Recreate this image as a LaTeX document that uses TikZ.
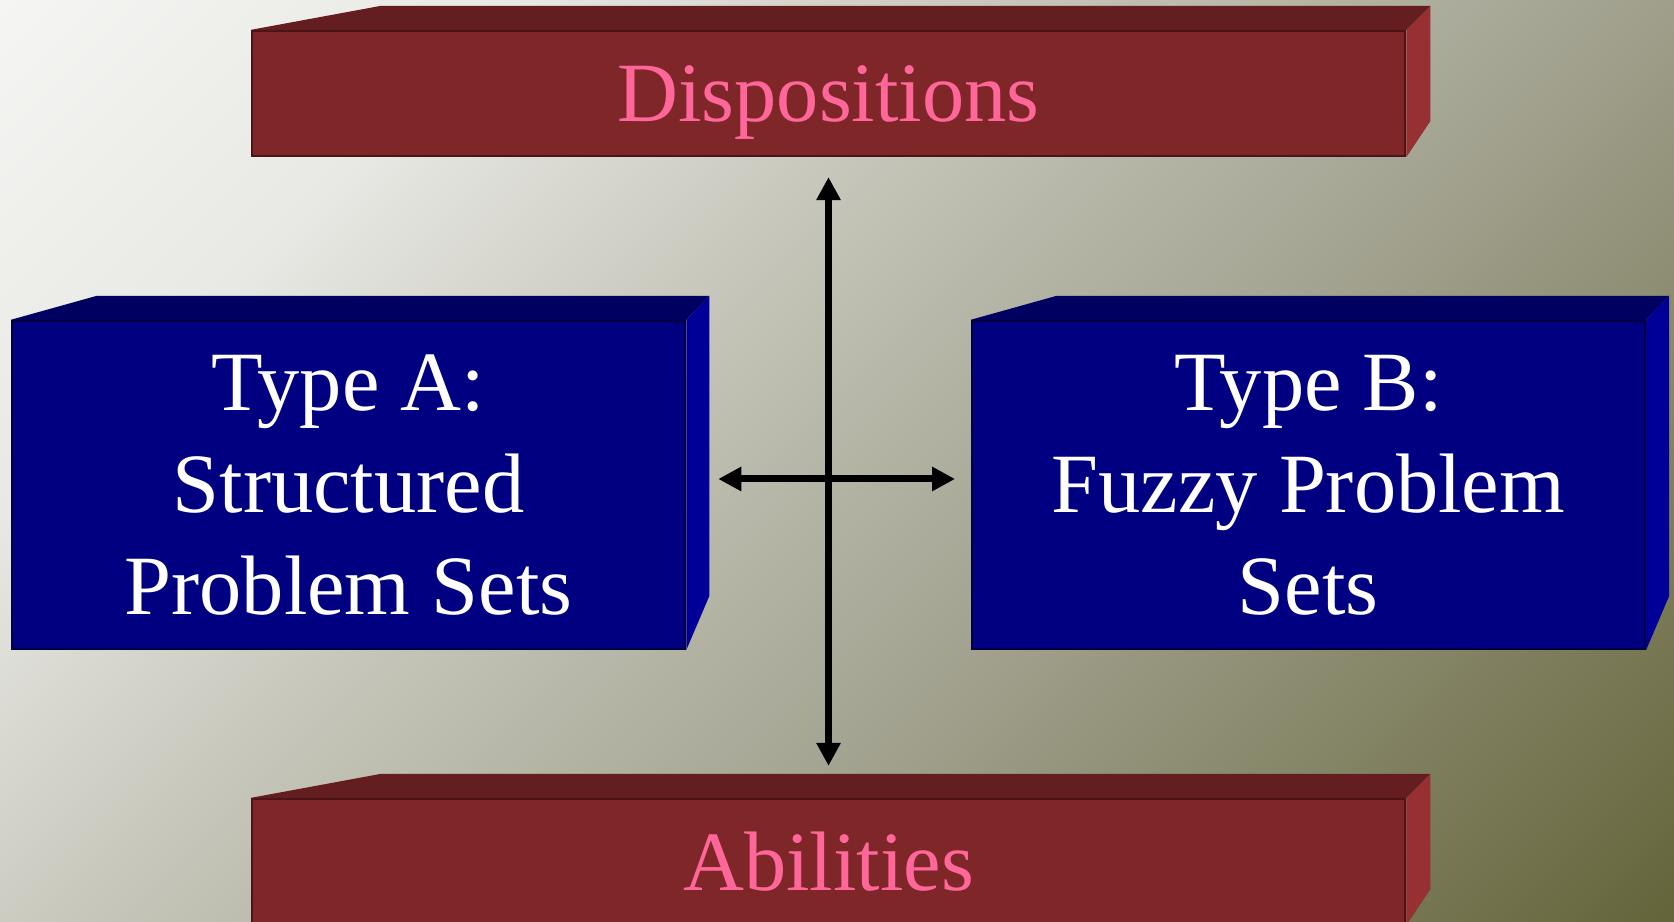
\documentclass[tikz,border=0pt]{standalone}
\usepackage{fontspec}
\setmainfont{Liberation Serif}
\usepackage{xcolor}
\usepackage{tikz}
\usetikzlibrary{arrows.meta, calc}

\definecolor{bgtl}{RGB}{245,245,243}
\definecolor{bgtwo}{RGB}{232,232,228}
\definecolor{bgthree}{RGB}{196,196,184}
\definecolor{bgfour}{RGB}{166,166,149}
\definecolor{bgbr}{RGB}{100,100,58}
\definecolor{slabred}{RGB}{127,38,40}
\definecolor{slabredtop}{RGB}{100,30,32}
\definecolor{slabredside}{RGB}{150,48,50}
\definecolor{slabredline}{RGB}{75,20,22}
\definecolor{slabpink}{RGB}{255,102,153}
\definecolor{slabblue}{RGB}{0,0,128}
\definecolor{slabbluetop}{RGB}{0,0,96}
\definecolor{slabblueside}{RGB}{0,0,153}
\definecolor{slabblueline}{RGB}{0,0,64}

\pgfdeclarehorizontalshading{bgdiag}{100bp}{color(0bp)=(bgtl); color(25bp)=(bgtl);
  color(35bp)=(bgtwo); color(45bp)=(bgthree); color(55bp)=(bgfour);
  color(75bp)=(bgbr); color(100bp)=(bgbr)}

\tikzset{
  slab/.style     = {rectangle, inner sep=0pt, align=center, line width=0.6pt,
                     font=\fontsize{24}{29}\selectfont},
  redslab/.style  = {slab, fill=slabred, draw=slabredline, text=slabpink,
                     text depth=0pt, minimum width=11.53cm, minimum height=1.25cm},
  blueslab/.style = {slab, fill=slabblue, draw=slabblueline, text=white,
                     minimum width=6.73cm, minimum height=3.28cm},
  arr/.style      = {{Triangle[length=0.23cm, width=0.23cm]}-{Triangle[length=0.23cm, width=0.23cm]},
                     line width=0.07cm},
}

\begin{document}
\begin{tikzpicture}[x=0.01cm, y=0.01cm]
  \useasboundingbox (0,0) rectangle (1674,922);
  % diagonal background, top left to bottom right
  \begin{scope}[transform canvas={shift={(0,922)}, rotate=-45}]
    \shade[shading=bgdiag] (0,-652) rectangle (1835.6,1184);
  \end{scope}

  % front faces
  \node[redslab]  (disp)  at (828.5,828.5) {Dispositions};
  \node[redslab]  (abil)  at (828.5,60.5)  {Abilities};
  \node[blueslab] (typeA) at (348.5,437)   {Type A:\\Structured\\Problem Sets};
  \node[blueslab] (typeB) at (1308.3,437)  {Type B:\\Fuzzy Problem\\Sets};

  % top and side faces
  \foreach \n in {disp, abil} {
    \fill[slabredtop] (\n.north west) -- ++(130,24)
      -- ([shift={(24,24)}]\n.north east) -- (\n.north east) -- cycle;
    \fill[slabredside] (\n.north east) -- ([shift={(24,24)}]\n.north east)
      -- ([shift={(24,36)}]\n.south east) -- (\n.south east) -- cycle;
  }
  \foreach \n in {typeA, typeB} {
    \fill[slabbluetop] (\n.north west) -- ++(86,24)
      -- ([shift={(23,24)}]\n.north east) -- (\n.north east) -- cycle;
    \fill[slabblueside] (\n.north east) -- ([shift={(23,24)}]\n.north east)
      -- ([shift={(23,54)}]\n.south east) -- (\n.south east) -- cycle;
  }

  % arrows
  \draw[arr, shorten <=0.2cm, shorten >=0.32cm] (disp.south) -- (abil.north);
  \draw[arr, shorten <=0.32cm, shorten >=0.155cm]
    ([yshift=0.06cm]typeA.east) -- ([yshift=0.06cm]typeB.west);
\end{tikzpicture}
\end{document}
